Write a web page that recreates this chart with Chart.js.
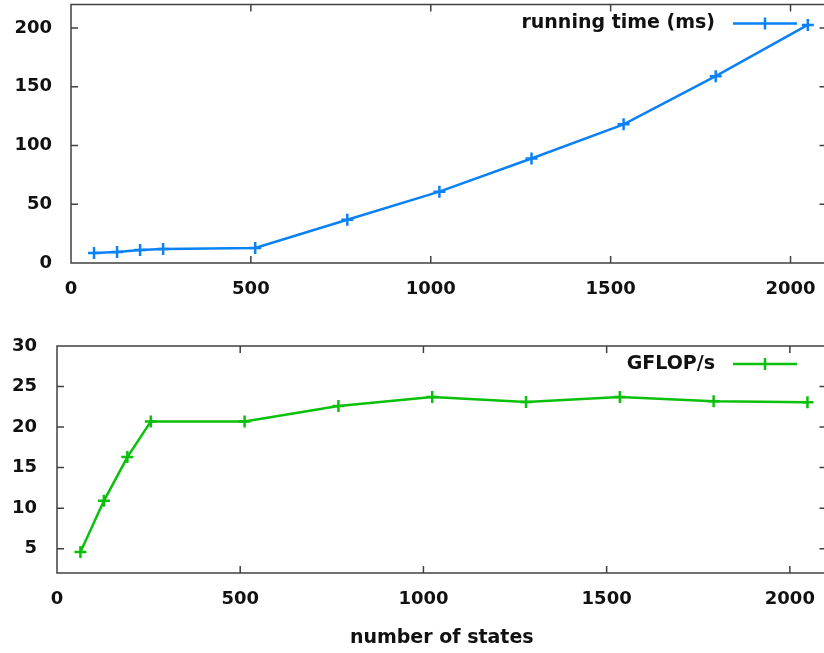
<!DOCTYPE html>
<html>
<head>
<meta charset="utf-8">
<script src="https://cdn.jsdelivr.net/npm/chart.js@4"></script>
<style>
  html, body { margin:0; padding:0; background:#fff; overflow:hidden; }
  body { width:824px; height:653px; position:relative; }
  canvas { position:absolute; left:0; }
  #timeChart { top:-4px; }
  #flopChart { top:320px; }
</style>
</head>
<body>
<canvas id="timeChart" width="835" height="304"></canvas>
<canvas id="flopChart" width="835" height="333"></canvas>
<script>
// ————— Data —————
const states      = [64, 128, 192, 256, 512, 768, 1024, 1280, 1536, 1792, 2048];
const runningTime = [8.5, 9.4, 11, 12, 12.8, 36.8, 60.7, 88.9, 118, 159, 202.6];
const gflops      = [4.6, 10.9, 16.3, 20.7, 20.7, 22.6, 23.7, 23.1, 23.7, 23.2, 23.05];
const xTicks      = [0, 500, 1000, 1500, 2000];
const timeTicks   = [0, 50, 100, 150, 200];
const flopTicks   = [5, 10, 15, 20, 25, 30];

const BLUE  = '#0a82f5';
const GREEN = '#0ac00a';
const FRAME = '#404040';
const tickFont = { family:'DejaVu Sans', size:18, weight:'bold' };

// ————— Helpers —————
// gnuplot-style frame, inward mirrored ticks and an inside legend
const gnuFrame = {
  id:'gnuFrame',
  afterDatasetsDraw(chart) {
    const { ctx, chartArea:a, scales } = chart;
    ctx.save();
    ctx.strokeStyle = FRAME;
    ctx.lineWidth = 1.5;
    ctx.strokeRect(a.left, a.top, a.right - a.left, a.bottom - a.top);
    ctx.beginPath();
    scales.x.ticks.forEach(t => {
      const px = scales.x.getPixelForValue(t.value);
      if (px <= a.left + 1) return;
      ctx.moveTo(px, a.bottom); ctx.lineTo(px, a.bottom - 7);
      ctx.moveTo(px, a.top);    ctx.lineTo(px, a.top + 7);
    });
    scales.y.ticks.forEach(t => {
      const py = scales.y.getPixelForValue(t.value);
      if (py >= a.bottom - 1 || py <= a.top + 1) return;
      ctx.moveTo(a.left, py);  ctx.lineTo(a.left + 7, py);
      ctx.moveTo(a.right, py); ctx.lineTo(a.right - 7, py);
    });
    ctx.stroke();

    // legend
    const ds = chart.data.datasets[0];
    const ly = a.top + chart.options.plugins.gnuLegend.offset;
    ctx.font = 'bold 19px "DejaVu Sans"';
    ctx.fillStyle = '#111';
    ctx.textAlign = 'right';
    ctx.textBaseline = 'middle';
    ctx.fillText(ds.label, 715, ly);
    ctx.strokeStyle = ds.borderColor;
    ctx.lineWidth = 2.5;
    ctx.beginPath();
    ctx.moveTo(733, ly); ctx.lineTo(797, ly);
    ctx.moveTo(765, ly - 6); ctx.lineTo(765, ly + 6);
    ctx.stroke();
    ctx.restore();
  }
};

function noPad(s) {
  s.paddingTop = 0; s.paddingBottom = 0;
  s.paddingLeft = 0; s.paddingRight = 0;
}

function makeChart(id, opts) {
  return new Chart(document.getElementById(id), {
    type:'line',
    data:{
      datasets:[{
        label: opts.label,
        data: states.map((x, i) => ({ x, y: opts.values[i] })),
        borderColor: opts.color,
        backgroundColor: opts.color,
        borderWidth: 2.5,
        pointStyle: 'cross',
        pointRadius: 6,
        pointBorderWidth: 2.5,
        tension: 0
      }]
    },
    options:{
      responsive:false,
      animation:false,
      layout:{ padding:{ top:opts.padTop, right:4, left:0, bottom:0 } },
      plugins:{
        legend:{ display:false },
        tooltip:{ enabled:false },
        gnuLegend:{ offset:opts.legendOffset }
      },
      scales:{
        x:{
          type:'linear', min:0, max:2100,
          afterBuildTicks: s => { s.ticks = xTicks.map(v => ({ value:v })); },
          afterFit: s => { s.height = opts.xHeight; noPad(s); },
          grid:{ display:false, drawTicks:false },
          border:{ display:false },
          ticks:{ font:tickFont, color:'#111', padding:opts.xPad, maxRotation:0,
                  callback: v => String(v) },
          title:{ display:!!opts.xTitle, text:opts.xTitle || '',
                  font:{ family:'DejaVu Sans', size:19, weight:'bold' }, color:'#111', padding:{ top:6 } }
        },
        y:{
          min:opts.yMin, max:opts.yMax,
          afterBuildTicks: s => { s.ticks = opts.yTicks.map(v => ({ value:v })); },
          afterFit: s => { s.width = opts.yWidth; noPad(s); },
          grid:{ display:false, drawTicks:false },
          border:{ display:false },
          ticks:{ font:tickFont, color:'#111', padding:opts.yPad, callback: v => String(v) }
        }
      }
    },
    plugins:[gnuFrame]
  });
}

// ————— Charts —————
makeChart('timeChart', {
  label:'running time (ms)', values:runningTime, color:BLUE,
  yMin:0, yMax:220, yTicks:timeTicks,
  padTop:3, xHeight:37, xPad:16, yWidth:71, yPad:19, legendOffset:19
});

makeChart('flopChart', {
  label:'GFLOP/s', values:gflops, color:GREEN,
  yMin:2, yMax:30, yTicks:flopTicks,
  padTop:26, xHeight:80, xPad:16, yWidth:57, yPad:20, legendOffset:18,
  xTitle:'number of states'
});
</script>
</body>
</html>
